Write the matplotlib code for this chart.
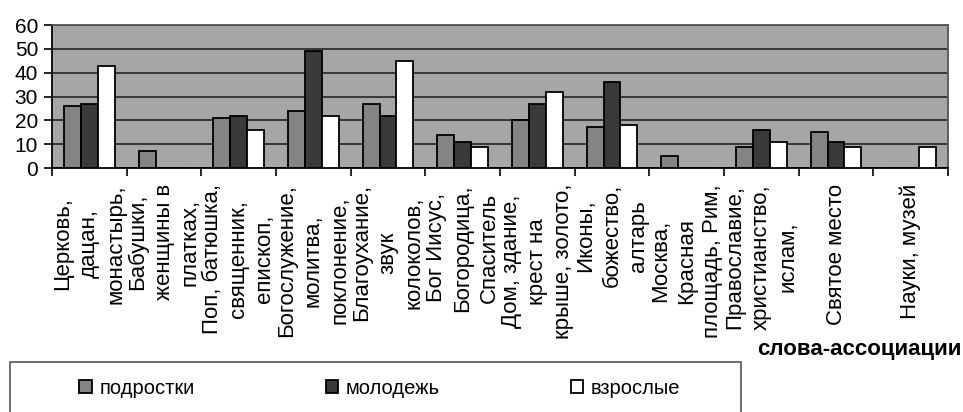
import numpy as np
import matplotlib
matplotlib.use("Agg")
import matplotlib.pyplot as plt
from matplotlib.patches import Rectangle
from matplotlib.transforms import offset_copy

plt.rcParams['font.family'] = ['Liberation Sans', 'DejaVu Sans']

categories = [
    "Церковь,\nдацан,\nмонастырь,",
    "Бабушки,\nженщины в\nплатках,",
    "Поп, батюшка,\nсвященник,\nепископ,",
    "Богослужение,\nмолитва,\nпоклонение,",
    "Благоухание,\nзвук\nколоколов,",
    "Бог Иисус,\nБогородица,\nСпаситель",
    "Дом, здание,\nкрест на\nкрыше, золото,",
    "Иконы,\nбожество,\nалтарь",
    "Москва,\nКрасная\nплощадь, Рим,",
    "Православие,\nхристианство,\nислам,",
    "Святое место",
    "Науки, музей",
]
teens = [26, 7, 21, 24, 27, 14, 20, 17, 5, 9, 15, 0]
youth = [27, 0, 22, 49, 22, 11, 27, 36, 0, 16, 11, 0]
adults = [43, 0, 16, 22, 45, 9, 32, 18, 0, 11, 9, 9]
series_names = ["подростки", "молодежь", "взрослые"]
series_colors = ["#848484", "#3a3a3a", "#ffffff"]

fig = plt.figure(figsize=(9.63, 4.12), dpi=100)
ax = fig.add_axes([52 / 963, 1 - 168 / 412, 896 / 963, 143 / 412])
ax.set_facecolor("#a6a6a6")

x = np.arange(len(categories))
w = 0.225
handles = []
for i, (vals, name, col) in enumerate(zip([teens, youth, adults], series_names, series_colors)):
    b = ax.bar(x + (i - 1) * w, vals, width=w, color=col, edgecolor="black",
               linewidth=1.3, label=name, zorder=3)
    handles.append(b)

ax.set_xlim(-0.5, len(categories) - 0.5)
ax.set_ylim(0, 60)
ax.set_yticks(range(0, 61, 10))
ax.yaxis.grid(True, color="#1a1a1a", linewidth=1.1, zorder=1)
ax.set_axisbelow(True)

# category names: wrapped, rotated, lines centred on each other
ax.set_xticks(np.arange(-0.5, len(categories)))
ax.set_xticklabels([])
lab_tr = offset_copy(ax.get_xaxis_transform(), fig=fig, y=-16, units="dots")
for xi, name in zip(x, categories):
    ax.text(xi, 0, name, transform=lab_tr, rotation=90, ha="center", va="top",
            multialignment="center", fontsize=16, linespacing=1.33)

ax.tick_params(axis="x", length=6, width=1.2, direction="out")
ax.tick_params(axis="y", length=6, width=1.2, direction="out", labelsize=15, pad=4)

for side in ["left", "bottom"]:
    ax.spines[side].set_color("black")
    ax.spines[side].set_linewidth(1.3)
for side in ["top", "right"]:
    ax.spines[side].set_color("#555555")
    ax.spines[side].set_linewidth(1.3)

fig.text(0.998, 1 - 350 / 412, "слова-ассоциации", ha="right", va="center",
         fontsize=16, fontweight="bold")

# legend box below the plot
fig.add_artist(Rectangle((10 / 963, -0.05), 731 / 963, 0.05 + 50 / 412,
                         transform=fig.transFigure, fill=False,
                         edgecolor="#555555", linewidth=1.2))
fig.legend(handles=handles, labels=series_names, loc="center",
           bbox_to_anchor=(380 / 963, 1 - 388 / 412), ncol=3, frameon=False,
           fontsize=14.5, handlelength=0.6, handleheight=0.6, handletextpad=0.4,
           columnspacing=6.5)

fig.savefig("out.png", dpi=100)
